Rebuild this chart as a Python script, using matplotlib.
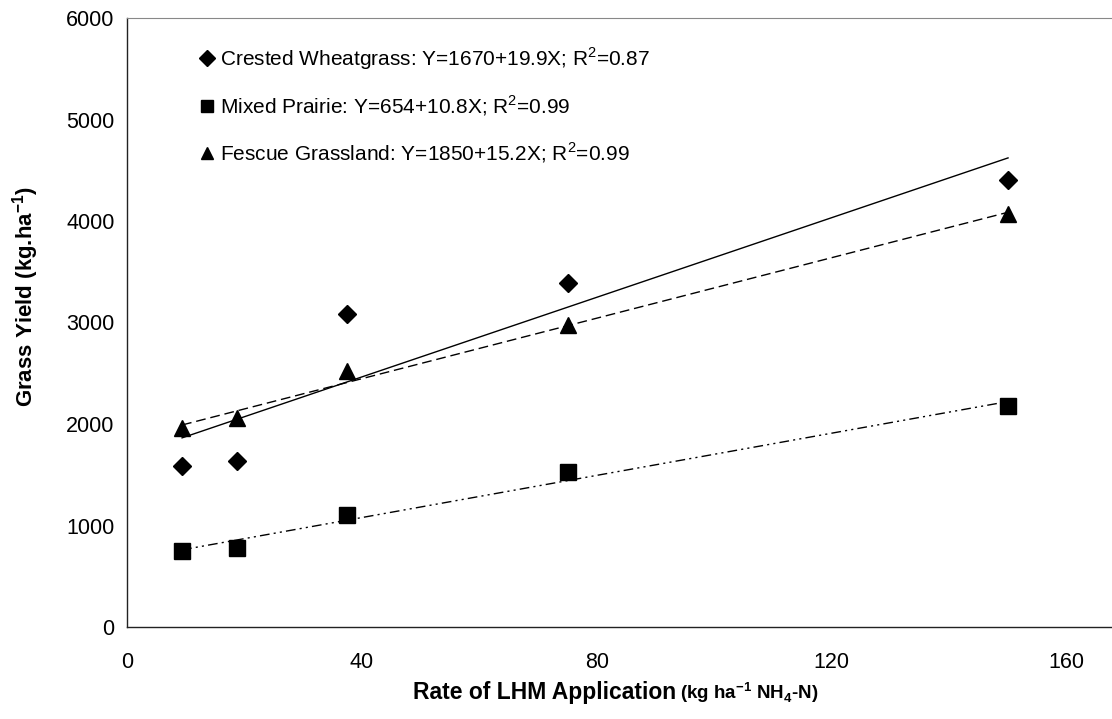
import numpy as np
import matplotlib
matplotlib.use("Agg")
import matplotlib.pyplot as plt
from matplotlib.lines import Line2D

plt.rcParams['font.family'] = ['Liberation Sans', 'DejaVu Sans']
plt.rcParams['mathtext.fontset'] = 'custom'
plt.rcParams['mathtext.rm'] = 'Liberation Sans'
plt.rcParams['mathtext.bf'] = 'Liberation Sans:bold'

# N rate (kg ha-1 NH4-N)
rate = [9.375, 18.75, 37.5, 75, 150]

# grass yield (kg ha-1)
crested = [1586, 1635, 3084, 3389, 4404]
mixed = [749, 778, 1103, 1527, 2177]
fescue = [1960, 2062, 2522, 2975, 4065]

labels = ["Crested Wheatgrass: Y=1670+19.9X; R$^2$=0.87",
          "Mixed Prairie: Y=654+10.8X; R$^2$=0.99",
          "Fescue Grassland: Y=1850+15.2X; R$^2$=0.99"]

W, H = 1112, 719
fig = plt.figure(figsize=(W / 100, H / 100), dpi=100)
ax = fig.add_axes([127 / W, 1 - 627 / H, 1 - 127 / W, (627 - 18) / H])

x = np.array(rate)
xfit = np.array([x.min(), x.max()])

series = [
    (crested, 'D', 9.5, '-'),
    (mixed, 's', 11, (0, (7, 3, 1.5, 3, 1.5, 3))),
    (fescue, '^', 11, (0, (7, 3.5))),
]

handles = []
for ys, mk, ms, ls in series:
    ys = np.array(ys)
    ax.plot(x, ys, linestyle='none', marker=mk, ms=ms, color='black', zorder=3)
    # least squares trend line (same as the spreadsheet trendline)
    b, a = np.polyfit(x, ys, 1)
    ax.plot(xfit, a + b * xfit, color='black', lw=1.0, linestyle=ls, zorder=2)
    handles.append(Line2D([], [], linestyle='none', marker=mk, ms=ms * 0.85, color='black'))

ax.set_xlim(0, 167.7)
ax.set_ylim(0, 6000)
ax.set_xticks([0, 40, 80, 120, 160])
ax.set_yticks(range(0, 6001, 1000))
ax.tick_params(length=0, labelsize=15.5)
ax.tick_params(axis='y', pad=9)
ax.tick_params(axis='x', pad=18)

ax.spines['right'].set_visible(False)
ax.spines['top'].set_color('#888888')
for s in ['left', 'bottom']:
    ax.spines[s].set_color('#222222')
    ax.spines[s].set_linewidth(1.0)

leg = ax.legend(handles, labels, loc='upper left', bbox_to_anchor=(199 / W, 1 - 45 / H),
                bbox_transform=fig.transFigure, frameon=False, fontsize=15,
                handlelength=0.8, handletextpad=0.2, labelspacing=1.05,
                borderaxespad=0, borderpad=0)

fig.text(26 / W, 1 - 297 / H, r"Grass Yield (kg.ha$^{\mathbf{-1}}$)", rotation=90,
         ha='center', va='center', fontsize=16, fontweight='bold')
fig.text(676 / W, 1 - 699 / H, "Rate of LHM Application", ha='right', va='baseline',
         fontsize=16.5, fontweight='bold')
fig.text(680 / W, 1 - 699 / H, r"(kg ha$^{\mathbf{-1}}$ NH$_{\mathbf{4}}$-N)", ha='left',
         va='baseline', fontsize=13.5, fontweight='bold')

fig.savefig("out.png", dpi=100)
